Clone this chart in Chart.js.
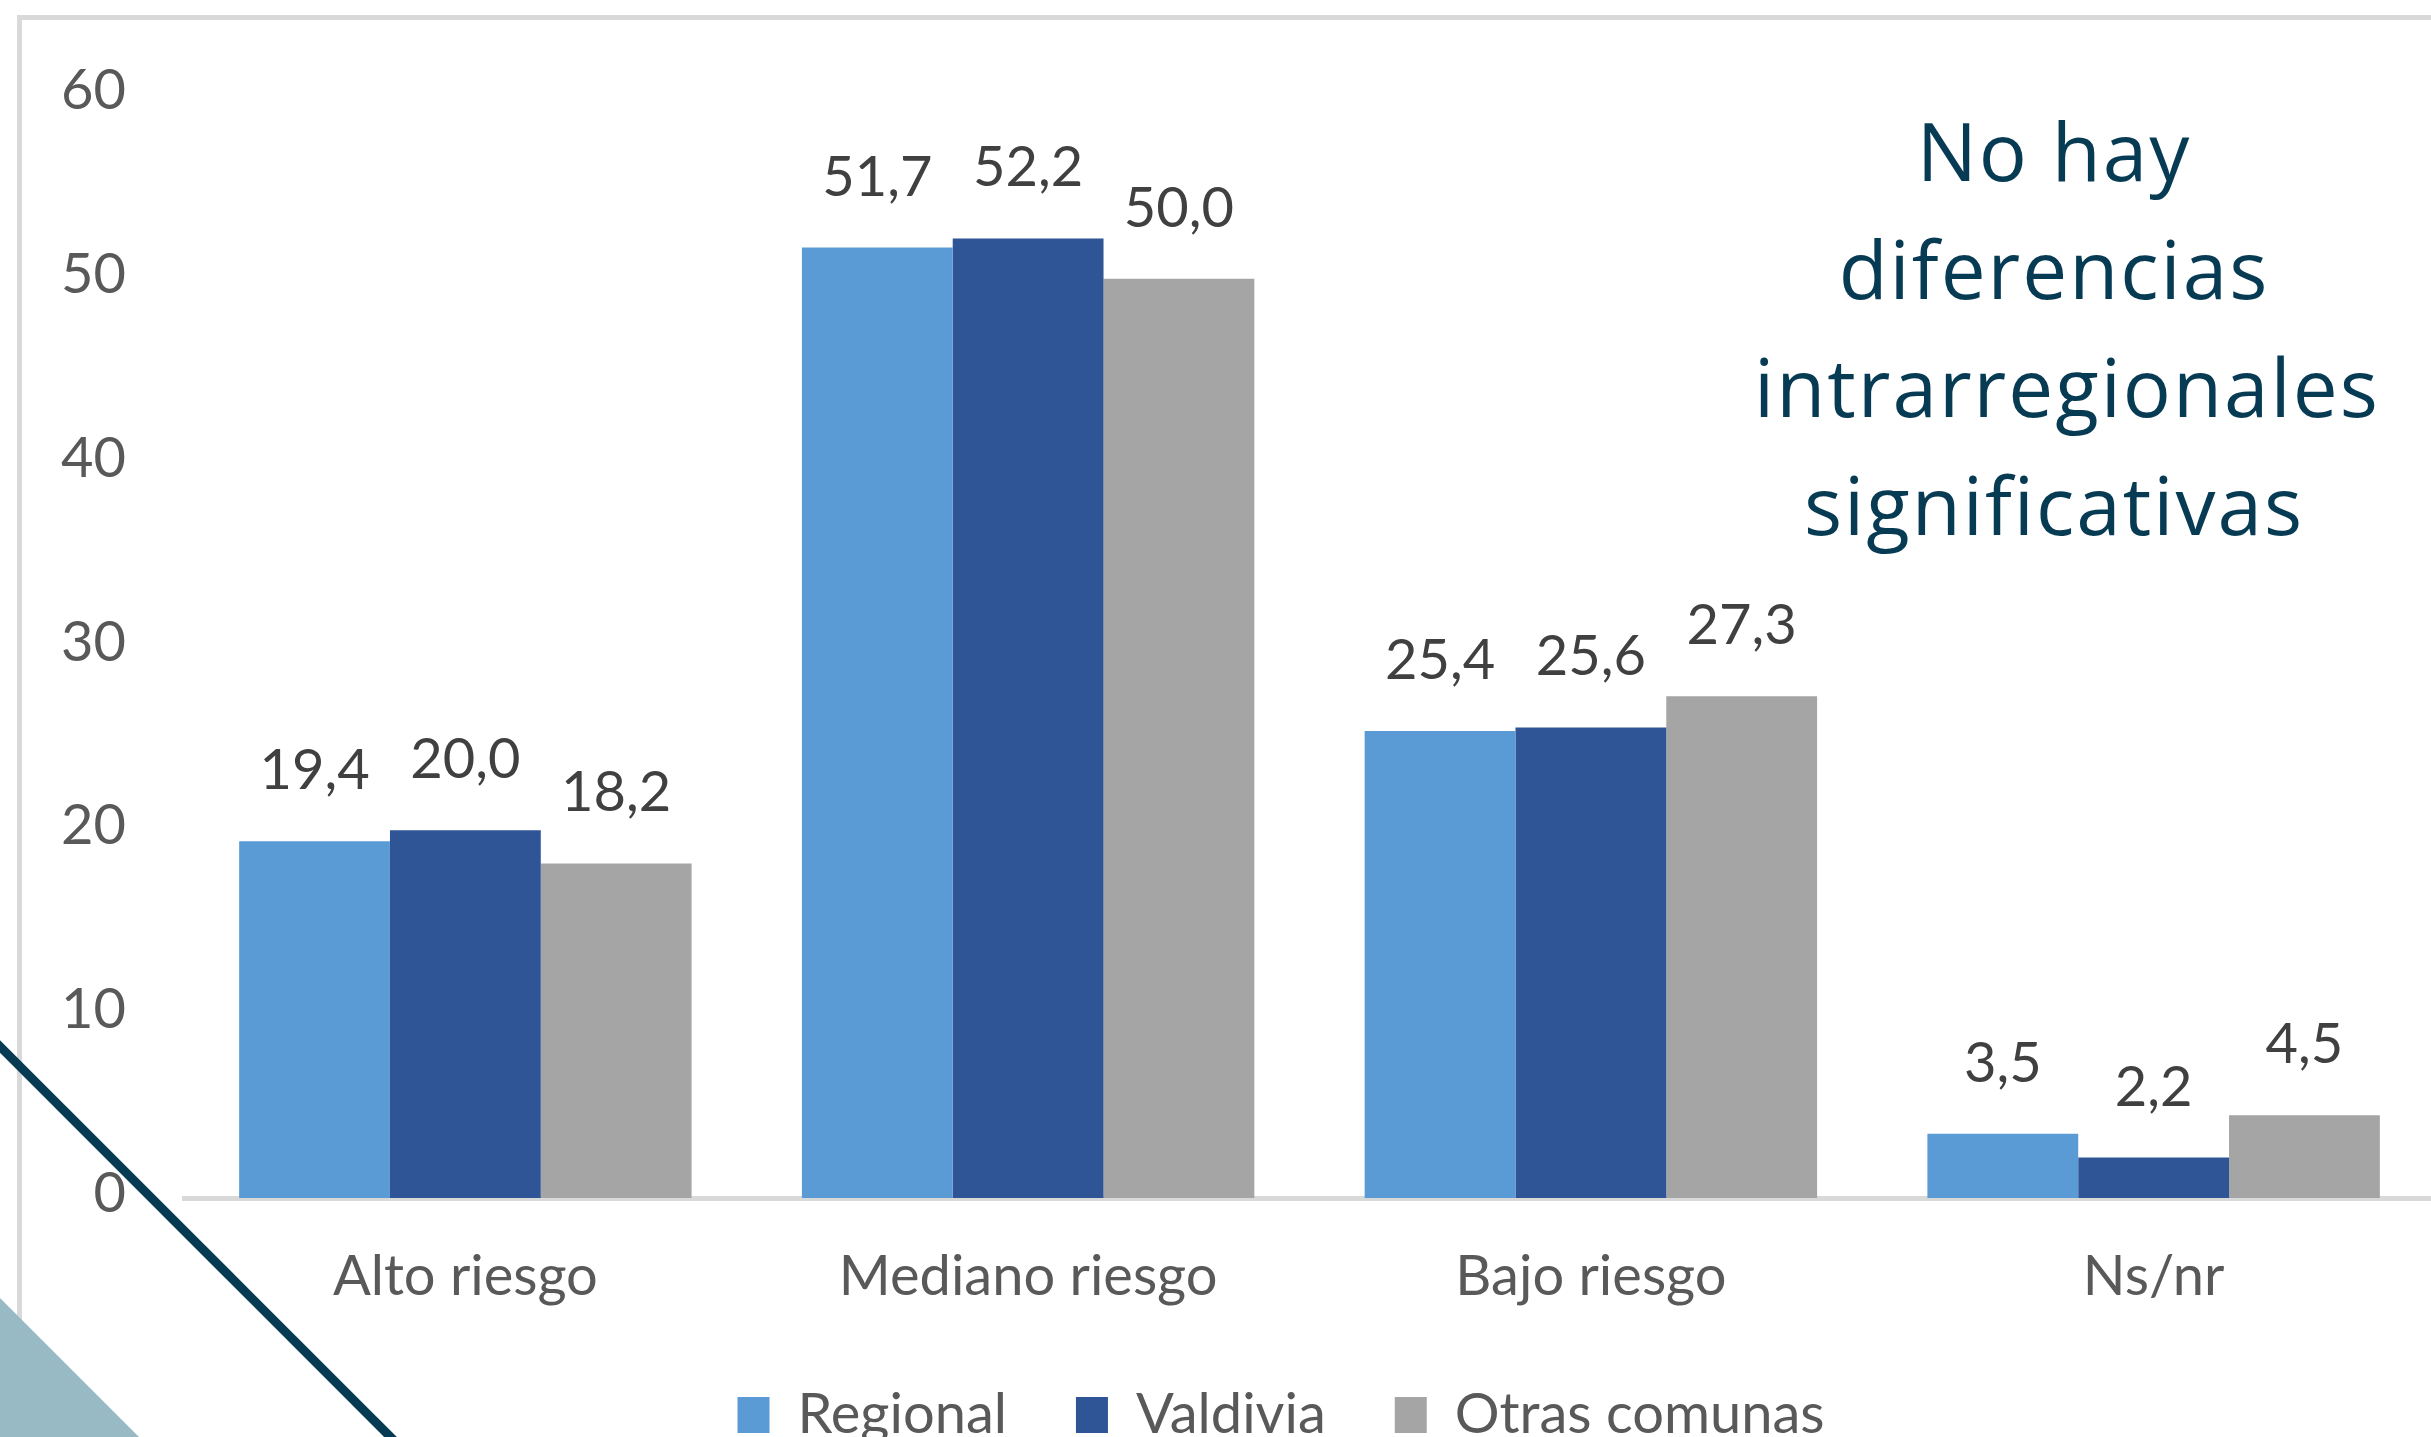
<!DOCTYPE html>
<html><head><meta charset="utf-8">
<script src="https://cdn.jsdelivr.net/npm/chart.js@4.4.1/dist/chart.umd.min.js"></script>
<style>
html,body{margin:0;padding:0;background:#fff;overflow:hidden;width:2431px;height:1437px;}
#wrap{position:relative;width:2431px;height:1437px;overflow:hidden;background:#fff;}
canvas{position:absolute;left:0;top:0;}
.frame-top{position:absolute;left:17px;top:15px;width:2414px;height:5px;background:#d9d9d9;}
.frame-left{position:absolute;left:17px;top:15px;width:5px;height:1422px;background:#d9d9d9;}
#note{position:absolute;left:1754px;width:600px;top:91px;text-align:center;font-family:"Open Sans";font-size:80px;letter-spacing:2px;line-height:118px;color:#073b54;white-space:nowrap;}
svg{position:absolute;left:0;top:0;}
</style></head><body><div id="wrap">
<div class="frame-top"></div><div class="frame-left"></div>
<canvas id="c" width="2440" height="1460"></canvas>
<div id="note">No hay<br>diferencias<br>intrarregionales<br>significativas</div>
<svg width="2431" height="1437"><polygon points="0,1298 0,1437 139,1437" fill="#98bac4"/><line x1="-20" y1="1026.5" x2="420" y2="1466.5" stroke="#073b54" stroke-width="9"/></svg>
</div>
<script>
const categories = ["Alto riesgo", "Mediano riesgo", "Bajo riesgo", "Ns/nr"];
const seriesNames = ["Regional", "Valdivia", "Otras comunas"];
const regional = [19.4, 51.7, 25.4, 3.5];
const valdivia = [20.0, 52.2, 25.6, 2.2];
const otras = [18.2, 50.0, 27.3, 4.5];
const yTicks = [0, 10, 20, 30, 40, 50, 60];

const valueLabels = {
  id: 'valueLabels',
  afterLayout(chart) {
    // centre the legend row as in the reference
    if (chart.legend) chart.legend.left = 127;
  },
  afterDatasetsDraw(chart) {
    const ctx = chart.ctx;
    ctx.save();
    ctx.font = '56px Lato';
    ctx.fillStyle = '#404040';
    ctx.textAlign = 'center';
    ctx.textBaseline = 'middle';
    chart.data.datasets.forEach((ds, i) => {
      chart.getDatasetMeta(i).data.forEach((bar, j) => {
        ctx.fillText(ds.data[j].toFixed(1).replace('.', ','), bar.x, bar.y - 70);
      });
    });
    ctx.restore();
  }
};

function draw() {
  new Chart(document.getElementById('c').getContext('2d'), {
    type: 'bar',
    data: {
      labels: categories,
      datasets: [
        { label: seriesNames[0], data: regional, backgroundColor: '#5b9bd5' },
        { label: seriesNames[1], data: valdivia, backgroundColor: '#2f5597' },
        { label: seriesNames[2], data: otras, backgroundColor: '#a5a5a5' }
      ]
    },
    options: {
      responsive: false,
      animation: false,
      layout: { padding: { top: 95, left: 0, right: 5, bottom: 7 } },
      datasets: { bar: { categoryPercentage: 0.804, barPercentage: 1, borderWidth: 0 } },
      scales: {
        x: {
          z: 1,
          grid: { display: false, drawTicks: false },
          border: { display: true, color: '#d9d9d9', width: 5 },
          ticks: { font: { family: 'Lato', size: 56 }, color: '#595959', padding: 45, maxRotation: 0, autoSkip: false },
          afterFit(s) { s.height = 120; }
        },
        y: {
          min: 0, max: 60,
          afterBuildTicks(s) { s.ticks = yTicks.map(v => ({ value: v })); },
          grid: { display: false, drawTicks: false },
          border: { display: false },
          ticks: { font: { family: 'Lato', size: 56 }, color: '#595959', padding: 58, labelOffset: -4, autoSkip: false },
          afterFit(s) { s.width = 184; }
        }
      },
      plugins: {
        legend: {
          position: 'bottom',
          labels: { font: { family: 'Lato', size: 56 }, color: '#595959', boxWidth: 32, boxHeight: 36, padding: 69 }
        },
        tooltip: { enabled: false }
      }
    },
    plugins: [valueLabels]
  });
}
if (document.fonts && document.fonts.load) {
  Promise.all([document.fonts.load('56px Lato'), document.fonts.load('80px "Open Sans"')]).then(draw, draw);
} else { draw(); }
</script>
</body></html>
